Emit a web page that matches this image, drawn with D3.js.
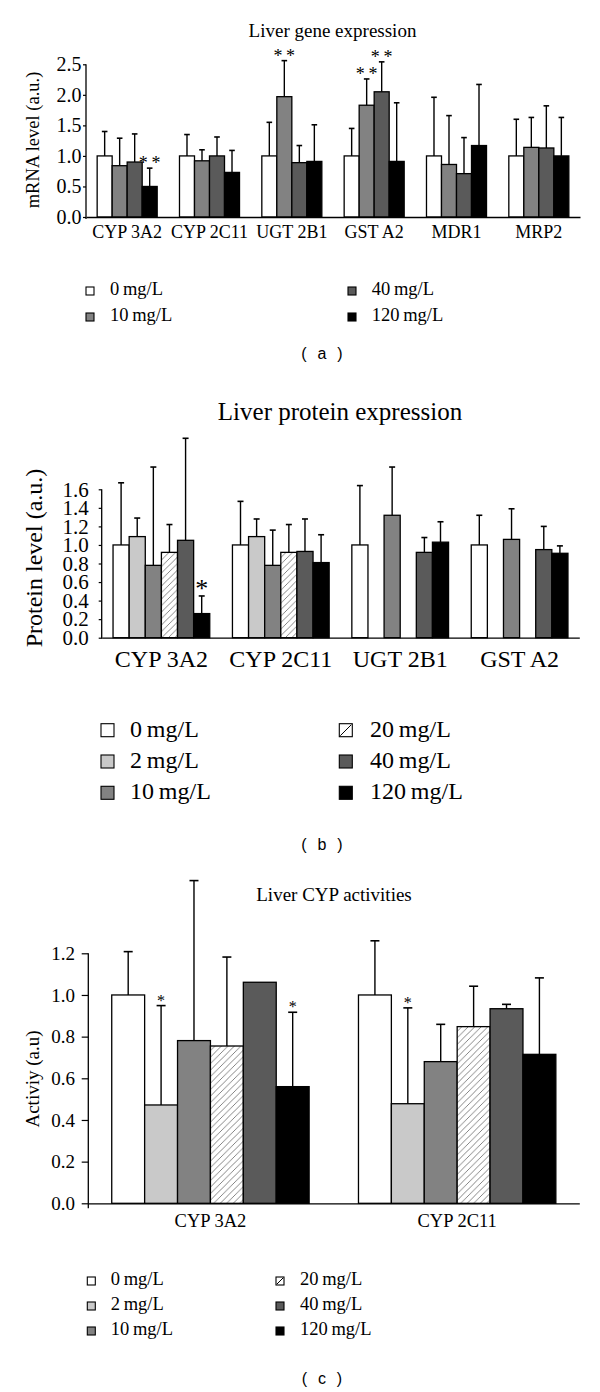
<!DOCTYPE html>
<html><head><meta charset="utf-8">
<script src="https://cdn.jsdelivr.net/npm/d3@7"></script>
<style>
body{margin:0;background:#fff}
svg{display:block;background:#fff}
</style>
</head><body>
<svg id="chart" width="600" height="1392"></svg>
<script>
// ---------------- DATA ----------------
// (a) Liver gene expression
const geneCategories = ["CYP 3A2","CYP 2C11","UGT 2B1","GST A2","MDR1","MRP2"];
const geneSeries = ["0 mg/L","10 mg/L","40 mg/L","120 mg/L"];
const geneMeans = [
  [1.00,0.84,0.90,0.50],
  [1.00,0.92,1.00,0.73],
  [1.00,1.97,0.89,0.91],
  [1.00,1.83,2.05,0.91],
  [1.00,0.86,0.71,1.17],
  [1.00,1.14,1.13,1.00]
];
const geneSD = [
  [0.40,0.45,0.46,0.30],
  [0.35,0.18,0.31,0.36],
  [0.55,0.59,0.28,0.60],
  [0.45,0.43,0.49,0.96],
  [0.96,0.80,0.59,1.00],
  [0.60,0.49,0.69,0.63]
];
const geneStars = [[0,3,"**"],[2,1,"**"],[3,1,"**"],[3,2,"**"]];
const geneTicks = [0,0.5,1.0,1.5,2.0,2.5];

// (b) Liver protein expression
const proteinCategories = ["CYP 3A2","CYP 2C11","UGT 2B1","GST A2"];
const proteinSeries = ["0 mg/L","2 mg/L","10 mg/L","20 mg/L","40 mg/L","120 mg/L"];
const proteinMeans = [
  [1.00,1.09,0.78,0.92,1.05,0.26],
  [1.00,1.09,0.78,0.92,0.93,0.81],
  [1.00,null,1.32,null,0.92,1.03],
  [1.00,null,1.06,null,0.95,0.91]
];
const proteinSD = [
  [0.67,0.20,1.06,0.30,1.10,0.19],
  [0.47,0.19,0.38,0.30,0.35,0.30],
  [0.64,null,0.52,null,0.16,0.22],
  [0.32,null,0.33,null,0.25,0.08]
];
const proteinStars = [[0,5,"*"]];
const proteinTicks = [0,0.2,0.4,0.6,0.8,1.0,1.2,1.4,1.6];

// (c) Liver CYP activities
const activityCategories = ["CYP 3A2","CYP 2C11"];
const activitySeries = ["0 mg/L","2 mg/L","10 mg/L","20 mg/L","40 mg/L","120 mg/L"];
const activityMeans = [
  [1.00,0.472,0.781,0.755,1.061,0.56],
  [1.00,0.478,0.68,0.848,0.934,0.715]
];
const activitySD = [
  [0.208,0.477,0.768,0.427,0,0.357],
  [0.26,0.46,0.179,0.194,0.021,0.367]
];
const activityStars = [[0,1,"*"],[0,5,"*"],[1,1,"*"]];
const activityTicks = [0,0.2,0.4,0.6,0.8,1.0,1.2];

// ---------------- STYLES ----------------
const SERIF = "'Liberation Serif','Times New Roman',serif";
const doseFill = {
  "0 mg/L":"#ffffff","2 mg/L":"#c9c9c9","10 mg/L":"#828282",
  "20 mg/L":"url(#hatch)","40 mg/L":"#5a5a5a","120 mg/L":"#000000"
};

const svg = d3.select("#chart");
svg.append("rect").attr("width",600).attr("height",1392).attr("fill","#fff");
const defs = svg.append("defs");
const pat = defs.append("pattern").attr("id","hatch").attr("patternUnits","userSpaceOnUse")
  .attr("width",6.5).attr("height",6.5);
pat.append("rect").attr("width",6.5).attr("height",6.5).attr("fill","#fff");
pat.append("path").attr("d","M-1,1 L1,-1 M0,6.5 L6.5,0 M5.5,7.5 L7.5,5.5")
  .attr("stroke","#666").attr("stroke-width",0.8);

function serifText(sel, size){
  return sel.attr("font-family", SERIF).style("font-family", SERIF)
    .style("font-size", size+"px").attr("fill","#000");
}

function drawPanel(cfg){
  const g = svg.append("g");
  const x0 = d3.scaleBand().domain(cfg.cats).range(cfg.xRange)
    .paddingInner(cfg.padIn).paddingOuter(cfg.padOut);
  const x1 = d3.scaleBand().domain(cfg.series).range([0, x0.bandwidth()]);
  const y = d3.scaleLinear().domain(cfg.yDomain).range(cfg.yRange);

  // bars
  cfg.cats.forEach((c,i)=>{
    cfg.series.forEach((s,j)=>{
      const v = cfg.means[i][j];
      if(v==null) return;
      g.append("rect")
        .attr("x", x0(c)+x1(s)).attr("y", y(v))
        .attr("width", x1.bandwidth()).attr("height", y(0)-y(v))
        .attr("fill", doseFill[s]).attr("stroke","#000").attr("stroke-width",cfg.barStroke);
    });
  });
  // error bars
  cfg.cats.forEach((c,i)=>{
    cfg.series.forEach((s,j)=>{
      const v = cfg.means[i][j], e = cfg.sd[i][j];
      if(v==null || !e) return;
      const cx = x0(c)+x1(s)+x1.bandwidth()/2;
      g.append("line").attr("x1",cx).attr("x2",cx).attr("y1",y(v)).attr("y2",y(v+e))
        .attr("stroke","#000").attr("stroke-width",1.4);
      g.append("line").attr("x1",cx-cfg.cap).attr("x2",cx+cfg.cap).attr("y1",y(v+e)).attr("y2",y(v+e))
        .attr("stroke","#000").attr("stroke-width",1.6);
    });
  });
  // significance stars
  cfg.stars.forEach(([i,j,t])=>{
    const c = cfg.cats[i], s = cfg.series[j];
    const cx = x0(c)+x1(s)+x1.bandwidth()/2;
    const top = cfg.means[i][j] + (cfg.sd[i][j]||0);
    serifText(g.append("text"), cfg.starSize)
      .attr("x",cx).attr("y",y(top)+cfg.starDy)
      .attr("text-anchor","middle")
      .text(t.length>1 ? t.split("").join("\u2009") : t);
  });

  // y axis
  const ya = g.append("g").attr("transform",`translate(${cfg.xRange[0]},0)`)
    .call(d3.axisLeft(y).tickValues(cfg.ticks).tickFormat(d3.format(".1f"))
      .tickSize(cfg.tickSize).tickSizeOuter(0).tickPadding(cfg.tickPad));
  ya.select(".domain").remove();
  ya.append("line").attr("x1",0).attr("x2",0).attr("y1",y(0)+cfg.yExt).attr("y2",y(cfg.yDomain[1]))
    .attr("stroke","#000").attr("stroke-width",1.3);
  ya.selectAll(".tick line").attr("stroke","#000").attr("stroke-width",1.2);
  serifText(ya.selectAll(".tick text"), cfg.tickFont);
  ya.attr("font-family", SERIF);

  // x axis
  const xa = g.append("g").attr("transform",`translate(0,${y(0)})`)
    .call(d3.axisBottom(x0).tickSize(0).tickSizeOuter(0));
  xa.select(".domain").attr("stroke","#000").attr("stroke-width",1.3);
  xa.attr("font-family", SERIF);
  serifText(xa.selectAll(".tick text"), cfg.xLabFont).attr("dy",null).attr("y",cfg.xLabDy);

  // title
  serifText(g.append("text"), cfg.titleFont)
    .attr("x",cfg.titleX).attr("y",cfg.titleY).attr("text-anchor","middle").text(cfg.title);
  // y title
  serifText(g.append("text"), cfg.yTitleFont)
    .attr("transform",`translate(${cfg.yTitleX},${cfg.yTitleY}) rotate(-90)`)
    .attr("text-anchor","middle").text(cfg.yTitle);

  // legend
  const rows = Math.ceil(cfg.series.length/2);
  cfg.series.forEach((s,k)=>{
    const col = Math.floor(k/rows), row = k%rows;
    const by = cfg.legY + row*cfg.legRow;
    const bx = cfg.legBoxX[col];
    g.append("rect").attr("x",bx).attr("y",by-cfg.legBox).attr("width",cfg.legBox).attr("height",cfg.legBox)
      .attr("fill", s==="20 mg/L" ? "#fff" : doseFill[s]).attr("stroke","#000").attr("stroke-width",1.1);
    if(s==="20 mg/L"){
      g.append("line").attr("x1",bx+1).attr("y1",by-1).attr("x2",bx+cfg.legBox-1).attr("y2",by-cfg.legBox+1)
        .attr("stroke","#000").attr("stroke-width",1);
    }
    serifText(g.append("text"), cfg.legFont)
      .attr("x",cfg.legTextX[col]).attr("y",by)
      .text(s.replace(" ", "\u2009"));
  });
  // panel label
  g.append("text").attr("x",cfg.labelX).attr("y",cfg.labelY).attr("text-anchor","middle")
    .attr("font-family","'Liberation Sans',Arial,sans-serif")
    .style("font-family","'Liberation Sans',Arial,sans-serif").style("font-size","16px")
    .attr("fill","#000").text(cfg.label.split("").join("\u2009"));
}

drawPanel({
  cats:geneCategories, series:geneSeries, means:geneMeans, sd:geneSD, stars:geneStars, ticks:geneTicks,
  xRange:[86,580], padIn:0.271, padOut:0.1355, yDomain:[0,2.5], yRange:[217,64.3],
  barStroke:1.3, cap:2.8, starSize:18, starDy:1,
  tickSize:3, tickPad:1.5, tickFont:20, yExt:2,
  xLabDy:21.3, xLabFont:18,
  title:"Liver gene expression", titleX:332.5, titleY:36.7, titleFont:19,
  yTitle:"mRNA level (a.u.)", yTitleX:39, yTitleY:140, yTitleFont:18.5,
  legY:295, legRow:26, legBox:8, legBoxX:[86,348], legTextX:[110,371.7], legFont:18.5,
  label:"( a )", labelX:322, labelY:359
});

drawPanel({
  cats:proteinCategories, series:proteinSeries, means:proteinMeans, sd:proteinSD, stars:proteinStars, ticks:proteinTicks,
  xRange:[101.7,579.3], padIn:0.19, padOut:0.095, yDomain:[0,1.6], yRange:[637.7,489.3],
  barStroke:1.3, cap:3, starSize:26, starDy:1,
  tickSize:3, tickPad:10, tickFont:21, yExt:1,
  xLabDy:29, xLabFont:24,
  title:"Liver protein expression", titleX:340, titleY:420, titleFont:25,
  yTitle:"Protein level (a.u.)", yTitleX:42, yTitleY:558, yTitleFont:24,
  legY:736.7, legRow:31.3, legBox:13, legBoxX:[101,339.3], legTextX:[130,370], legFont:24,
  label:"( b )", labelX:322, labelY:850
});

drawPanel({
  cats:activityCategories, series:activitySeries, means:activityMeans, sd:activitySD, stars:activityStars, ticks:activityTicks,
  xRange:[88.3,579.3], padIn:0.2, padOut:0.095, yDomain:[0,1.2], yRange:[1203.3,953.3],
  barStroke:1.3, cap:4.5, starSize:16, starDy:0,
  tickSize:6.6, tickPad:6.7, tickFont:19, yExt:5,
  xLabDy:23.4, xLabFont:18.5,
  title:"Liver CYP activities", titleX:334, titleY:901, titleFont:19,
  yTitle:"Activiy (a.u)", yTitleX:39, yTitleY:1079, yTitleFont:19,
  legY:1285, legRow:25, legBox:8, legBoxX:[87.3,276], legTextX:[110.7,300], legFont:18.5,
  label:"( c )", labelX:322, labelY:1384
});
</script>
</body></html>
